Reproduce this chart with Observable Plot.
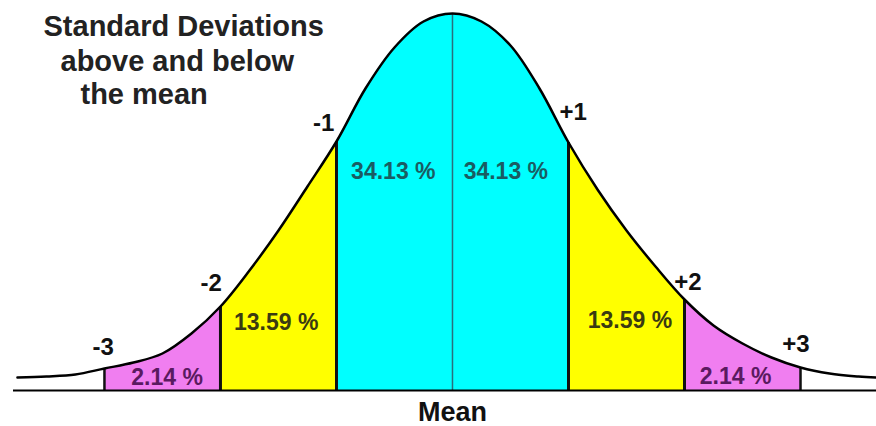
<!DOCTYPE html>
<html>
<head>
<meta charset="utf-8">
<script src="https://cdn.jsdelivr.net/npm/d3@7"></script>
<script src="https://cdn.jsdelivr.net/npm/@observablehq/plot@0.6"></script>
<style>
  html, body { margin: 0; padding: 0; background: #fff; }
  #chart { width: 876px; height: 426px; }
</style>
</head>
<body>
<div id="chart"></div>
<script>
// Curve: x in standard deviations, height of the curve above the baseline
const curveX = [-3.75, -3.5, -3.25, -3, -2.75, -2.5, -2.25, -2, -1.75, -1.5, -1.25, -1, -0.75, -0.5, -0.25, 0,
                0.25, 0.5, 0.75, 1, 1.25, 1.5, 1.75, 2, 2.25, 2.5, 2.75, 3, 3.25, 3.5, 3.65];
const curveH = [13, 14, 16, 22, 28, 37, 57, 84, 120, 160, 204, 249, 302, 343, 369, 377,
                369, 345, 302, 248, 201, 160, 124, 91, 65, 47, 33, 23, 17, 14, 13];

// Shaded bands between standard deviations
const bandFrom  = [-3, -2, -1, 1, 2];
const bandTo    = [-2, -1, 1, 2, 3];
const bandColor = ["#f07ef0", "#ffff00", "#00ffff", "#ffff00", "#f07ef0"];

// Boundary lines
const boundaries = [-3, -2, -1, 1, 2, 3];
const boundaryWidth = [2.5, 3, 3, 3, 3, 2.5];

// Standard deviation labels
const sdLabels = ["-3", "-2", "-1", "+1", "+2", "+3"];
const sdLabelX = [-3.01, -2.08, -1.11, 1.04, 2.03, 2.96];
const sdLabelH = [43, 107, 267, 278, 108, 46];

// Percentage labels
const pctLabels = ["2.14 %", "13.59 %", "34.13 %", "34.13 %", "13.59 %", "2.14 %"];
const pctX = [-2.46, -1.52, -0.51, 0.46, 1.53, 2.44];
const pctH = [13, 68, 219, 219, 70, 14];
const pctColor = ["#5a1a60", "#3a3a12", "#1a5c62", "#1a5c62", "#3a3a12", "#5a1a60"];

const titleLines = ["Standard Deviations", "above and below", "the mean"];

const curve = curveX.map((x, i) => ({x, h: curveH[i]}));
const hAt = x => curve.find(d => d.x === x).h;
const peakH = d3.max(curveH);
const bands = bandFrom.map((a, i) => ({a, b: bandTo[i], c: bandColor[i]}));
const rules = boundaries.map((x, i) => ({x, h: hAt(x), w: boundaryWidth[i]}));
const sdl = sdLabels.map((t, i) => ({t, x: sdLabelX[i], h: sdLabelH[i]}));
const pct = pctLabels.map((t, i) => ({t, x: pctX[i], h: pctH[i], c: pctColor[i]}));

const font = "'Liberation Sans', Arial, Helvetica, sans-serif";

const plot = Plot.plot({
  width: 876,
  height: 426,
  marginLeft: 13,
  marginRight: 0,
  marginTop: 13,
  marginBottom: 36,
  style: {fontFamily: font, background: "#fff"},
  x: {domain: [-3.784, 3.655], axis: null},
  y: {domain: [0, peakH], axis: null},
  marks: [
    Plot.rect(bands, {x1: "a", x2: "b", y1: 0, y2: peakH, fill: "c"}),
    Plot.areaY(curve, {x: "x", y1: "h", y2: peakH + 5, fill: "#fff", curve: "catmull-rom"}),
    ...rules.map(r => Plot.ruleX([r], {x: "x", y1: 0, y2: "h", stroke: "#111", strokeWidth: r.w})),
    Plot.ruleX([0], {y1: 0, y2: peakH, stroke: "#2a6e7c", strokeWidth: 1.5}),
    Plot.line(curve, {x: "x", y: "h", stroke: "#000", strokeWidth: 2.5, curve: "catmull-rom"}),
    Plot.ruleY([0], {stroke: "#000", strokeWidth: 2}),
    Plot.text(pct, {x: "x", y: "h", text: "t", fill: "c", fontSize: 23, fontWeight: "bold", lineAnchor: "middle"}),
    Plot.text(sdl, {x: "x", y: "h", text: "t", fill: "#111", fontSize: 24, fontWeight: "bold", lineAnchor: "middle"}),
    Plot.text(["Mean"], {x: [0], frameAnchor: "bottom", dy: 22, text: d => d, fill: "#111", fontSize: 27, fontWeight: "bold", lineAnchor: "middle"}),
    Plot.text([titleLines[0]], {frameAnchor: "top-left", dx: 30, dy: 2, text: d => d, textAnchor: "start", lineAnchor: "top", fontSize: 29, fontWeight: "bold", fill: "#222"}),
    Plot.text([titleLines[1]], {frameAnchor: "top-left", dx: 47, dy: 37, text: d => d, textAnchor: "start", lineAnchor: "top", fontSize: 29, fontWeight: "bold", fill: "#222"}),
    Plot.text([titleLines[2]], {frameAnchor: "top-left", dx: 67, dy: 70, text: d => d, textAnchor: "start", lineAnchor: "top", fontSize: 29, fontWeight: "bold", fill: "#222"})
  ]
});
document.getElementById("chart").appendChild(plot);
</script>
</body>
</html>
